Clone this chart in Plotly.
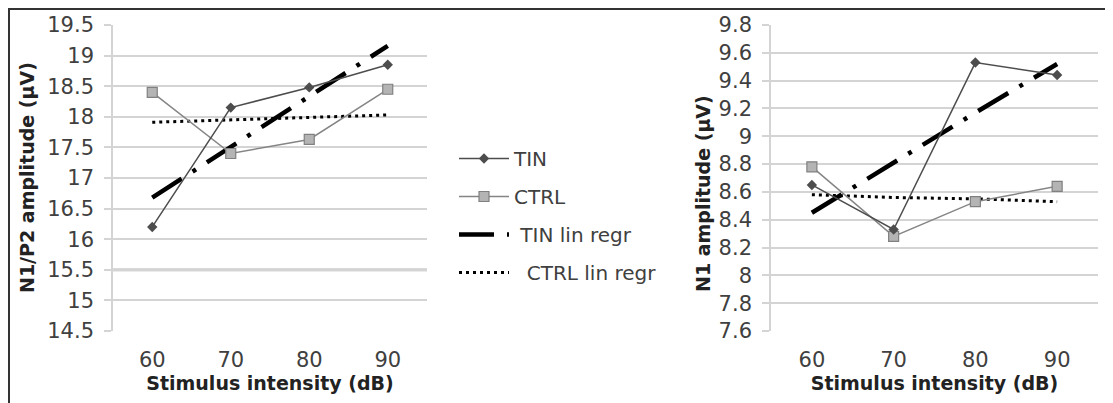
import plotly.graph_objects as go
from plotly.subplots import make_subplots

# ---- data ----
intensity = [60, 70, 80, 90]

# left panel: N1/P2 amplitude (uV)
tin_n1p2 = [16.2, 18.15, 18.48, 18.85]
ctrl_n1p2 = [18.4, 17.4, 17.63, 18.45]
tin_n1p2_reg = [16.68, 17.51, 18.34, 19.16]
ctrl_n1p2_reg = [17.91, 17.95, 17.99, 18.03]

# right panel: N1 amplitude (uV)
tin_n1 = [8.65, 8.33, 9.53, 9.44]
ctrl_n1 = [8.78, 8.28, 8.53, 8.64]
tin_n1_reg = [8.45, 8.81, 9.17, 9.52]
ctrl_n1_reg = [8.58, 8.56, 8.55, 8.53]

left_ticks = [14.5, 15, 15.5, 16, 16.5, 17, 17.5, 18, 18.5, 19, 19.5]
left_ticktext = ["14.5", "15", "15.5", "16", "16.5", "17", "17.5", "18", "18.5", "19", "19.5"]
right_ticks = [7.6, 7.8, 8.0, 8.2, 8.4, 8.6, 8.8, 9.0, 9.2, 9.4, 9.6, 9.8]
right_ticktext = ["7.6", "7.8", "8", "8.2", "8.4", "8.6", "8.8", "9", "9.2", "9.4", "9.6", "9.8"]

series_names = ["TIN", "CTRL", "\u00a0TIN lin regr", "\u00a0\u00a0CTRL lin regr"]

# ---- styles ----
TIN_COL = "#4d4d4d"
CTRL_LINE = "#858585"
CTRL_FILL = "#b4b4b4"
GRID = "#d4d4d4"
TXT = "#404040"
FONT = "DejaVu Sans"
REG_DASH = "35px,13px,4px,13px"
DOT_DASH = "3px,4px"

OFF = 8  # page body margin
W, H = 1113 - OFF, 403 - OFF
# plot area in reference page pixels
L_PX, R_PX, T_PX, B_PX = 113, 1098, 25, 331
ML, MR = L_PX - OFF, W - (R_PX - OFF)
MT, MB = T_PX - OFF, H - (B_PX - OFF)
PW = W - ML - MR
PH = H - MT - MB


def px_x(px):
    return (px - L_PX) / PW


def px_y(py):
    return (B_PX - py) / PH


fig = make_subplots(rows=1, cols=2, horizontal_spacing=0.0)


def add_panel(col, tin, ctrl, tin_reg, ctrl_reg, show):
    fig.add_trace(go.Scatter(
        x=intensity, y=tin_reg, mode="lines", name=series_names[2],
        line=dict(color="black", width=4.5, dash=REG_DASH),
        legendgroup="c", showlegend=show, legendrank=3), row=1, col=col)
    fig.add_trace(go.Scatter(
        x=intensity, y=ctrl_reg, mode="lines", name=series_names[3],
        line=dict(color="black", width=3, dash=DOT_DASH),
        legendgroup="d", showlegend=show, legendrank=4), row=1, col=col)
    fig.add_trace(go.Scatter(
        x=intensity, y=ctrl, mode="lines+markers", name=series_names[1],
        line=dict(color=CTRL_LINE, width=1.5),
        marker=dict(symbol="square", size=10, color=CTRL_FILL,
                    line=dict(color="#808080", width=1.2)),
        legendgroup="b", showlegend=show, legendrank=2), row=1, col=col)
    fig.add_trace(go.Scatter(
        x=intensity, y=tin, mode="lines+markers", name=series_names[0],
        line=dict(color=TIN_COL, width=1.5),
        marker=dict(symbol="diamond", size=8, color=TIN_COL),
        legendgroup="a", showlegend=show, legendrank=1), row=1, col=col)


add_panel(1, tin_n1p2, ctrl_n1p2, tin_n1p2_reg, ctrl_n1p2_reg, True)
add_panel(2, tin_n1, ctrl_n1, tin_n1_reg, ctrl_n1_reg, False)

xdom1 = [0, px_x(427)]
xdom2 = [px_x(771), 1]

common_x = dict(range=[55, 95], tickvals=intensity, ticks="", showgrid=False,
                zeroline=False, showline=False,
                tickfont=dict(family=FONT, size=21, color=TXT),
                ticklabelstandoff=14,
                title=dict(text="<b>Stimulus intensity (dB)</b>",
                           font=dict(family=FONT, size=19, color="#222222"),
                           standoff=4))
fig.update_xaxes(**common_x)
fig.update_xaxes(domain=xdom1, row=1, col=1)
fig.update_xaxes(domain=xdom2, row=1, col=2)

common_y = dict(showgrid=True, gridcolor=GRID, gridwidth=1.6, zeroline=False,
                showline=True, linecolor=GRID, linewidth=1.6,
                ticks="outside", ticklen=7, tickcolor=GRID, tickwidth=1.6,
                tickfont=dict(family=FONT, size=21, color=TXT),
                ticklabelstandoff=6)
fig.update_yaxes(**common_y)
fig.update_yaxes(range=[14.5, 19.5], tickvals=left_ticks, ticktext=left_ticktext,
                 row=1, col=1)
fig.update_yaxes(range=[7.6, 9.8], tickvals=right_ticks, ticktext=right_ticktext,
                 row=1, col=2)

annotations = [
    dict(text="<b>N1/P2 amplitude (\u03bcV)</b>", textangle=-90,
         x=px_x(27), y=px_y(178), xref="paper", yref="paper",
         xanchor="center", yanchor="middle",
         showarrow=False, font=dict(family=FONT, size=19, color="#222222")),
    dict(text="<b>N1 amplitude (\u03bcV)</b>", textangle=-90,
         x=px_x(703), y=px_y(194), xref="paper", yref="paper",
         xanchor="center", yanchor="middle",
         showarrow=False, font=dict(family=FONT, size=19, color="#222222")),
]

shapes = [
    # outer frame (top and left edges)
    dict(type="line", xref="paper", yref="paper",
         x0=px_x(OFF), x1=px_x(1120), y0=px_y(OFF + 1), y1=px_y(OFF + 1),
         line=dict(color="#333333", width=2)),
    dict(type="line", xref="paper", yref="paper",
         x0=px_x(OFF + 1), x1=px_x(OFF + 1), y0=px_y(OFF), y1=px_y(410),
         line=dict(color="#333333", width=2)),
    # emphasised 15.5 gridline
    dict(type="line", xref="x domain", yref="y", x0=0, x1=1, y0=15.5, y1=15.5,
         line=dict(color="#d8d8d8", width=3.5), layer="below"),
]

fig.update_layout(
    width=W, height=H,
    margin=dict(l=ML, r=MR, t=MT, b=MB, autoexpand=False),
    paper_bgcolor="white", plot_bgcolor="white",
    annotations=annotations, shapes=shapes,
    legend=dict(x=px_x(454), y=px_y(139), xanchor="left", yanchor="top",
                bgcolor="rgba(0,0,0,0)", traceorder="grouped",
                tracegroupgap=9, itemwidth=50,
                font=dict(family=FONT, size=20, color=TXT)),
    font=dict(family=FONT),
)

fig.write_html("out.html")
